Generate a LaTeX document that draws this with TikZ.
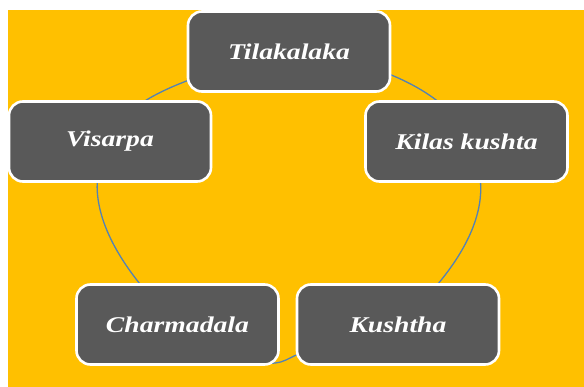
\documentclass[tikz,border=0pt]{standalone}
\usepackage{fontspec}
\newfontfamily\lblfont[FakeStretch=1.23]{Liberation Serif}
\usetikzlibrary{backgrounds}
\definecolor{bgorange}{RGB}{255,192,0}
\definecolor{boxgray}{RGB}{89,89,89}
\definecolor{ringblue}{RGB}{84,130,180}
\tikzset{
  stagebox/.style={rectangle, rounded corners=14pt, fill=boxgray, draw=white,
    line width=2.6pt, minimum width=202pt, minimum height=80pt, inner sep=0pt,
    text=white, font=\lblfont\fontsize{22.5}{26}\selectfont\bfseries\itshape},
  ring/.style={draw=ringblue, line width=1.3pt}
}
\begin{document}
\begin{tikzpicture}[x=1pt,y=-1pt]
\useasboundingbox (0,0) rectangle (584,387);
\node[stagebox] (til) at (289,51.5) {Tilakalaka};
\node[stagebox] (kil) at (466.5,141.5) {Kilas kushta};
\node[stagebox] (kus) at (398,324.5) {Kushtha};
\node[stagebox] (cha) at (177.5,324.5) {Charmadala};
\node[stagebox] (vis) at (110,141.5) {Visarpa};
\begin{scope}[on background layer]
  \fill[bgorange] (8,10) rectangle (584,387);
  \draw[ring] (vis.center) .. controls (120,98) and (200,72) .. (til.center);
  \draw[ring] (til.center) .. controls (378,58) and (458,98) .. (kil.center);
  \draw[ring] (kil.center) .. controls (505,200) and (460,270) .. (kus.center);
  \draw[ring] (kus.center) .. controls (350,330) and (310,348) .. (286,360)
                          .. controls (262,372) and (200,350) .. (cha.center);
  \draw[ring] (cha.center) .. controls (122,272) and (73,200) .. (vis.center);
\end{scope}
\end{tikzpicture}
\end{document}
